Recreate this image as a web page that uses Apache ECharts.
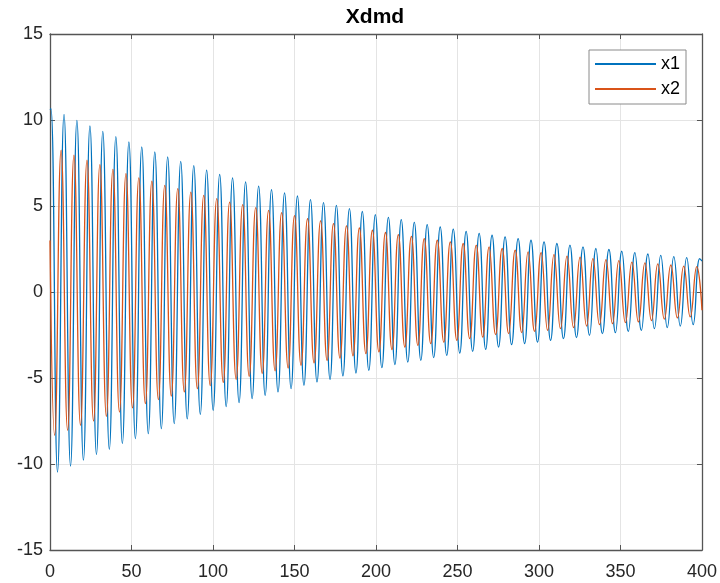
<!DOCTYPE html>
<html>
<head>
<meta charset="utf-8">
<script src="https://cdn.jsdelivr.net/npm/echarts/dist/echarts.min.js"></script>
<style>
  html, body { margin: 0; padding: 0; background: #fff; }
  #chart { width: 720px; height: 583px; }
</style>
</head>
<body>
<div id="chart"></div>
<script>
// Extremes of the two DMD state traces: times and values of each peak and trough
const x1PeakT = [0.6, 8.6, 16.5, 24.5, 32.4, 40.4, 48.4, 56.3, 64.3, 72.2, 80.2, 88.2, 96.1, 104.1, 112.0, 120.0, 128.0, 135.9, 143.9, 151.8, 159.8, 167.8, 175.7, 183.7, 191.6, 199.6, 207.6, 215.5, 223.5, 231.4, 239.4, 247.4, 255.3, 263.3, 271.2, 279.2, 287.2, 295.1, 303.1, 311.0, 319.0, 327.0, 334.9, 342.9, 350.8, 358.8, 366.8, 374.7, 382.7, 390.6, 398.6];
const x1PeakV = [10.66, 10.33, 9.98, 9.65, 9.34, 9.03, 8.72, 8.43, 8.14, 7.85, 7.60, 7.35, 7.09, 6.84, 6.63, 6.40, 6.16, 5.95, 5.76, 5.58, 5.37, 5.20, 5.04, 4.85, 4.68, 4.50, 4.34, 4.21, 4.05, 3.92, 3.78, 3.66, 3.53, 3.41, 3.30, 3.20, 3.10, 3.01, 2.91, 2.82, 2.72, 2.62, 2.53, 2.47, 2.37, 2.29, 2.21, 2.13, 2.06, 2.00, 1.94];
const x1TroughT = [4.6, 12.6, 20.5, 28.5, 36.4, 44.4, 52.4, 60.3, 68.3, 76.2, 84.2, 92.2, 100.1, 108.1, 116.0, 124.0, 132.0, 139.9, 147.9, 155.8, 163.8, 171.8, 179.7, 187.7, 195.6, 203.6, 211.6, 219.5, 227.5, 235.4, 243.4, 251.4, 259.3, 267.3, 275.2, 283.2, 291.2, 299.1, 307.1, 315.0, 323.0, 331.0, 338.9, 346.9, 354.8, 362.8, 370.8, 378.7, 386.7, 394.6];
const x1TroughV = [-10.47, -10.12, -9.78, -9.45, -9.15, -8.81, -8.52, -8.23, -7.94, -7.65, -7.38, -7.11, -6.88, -6.66, -6.43, -6.20, -6.01, -5.81, -5.62, -5.42, -5.23, -5.08, -4.88, -4.71, -4.55, -4.40, -4.22, -4.07, -3.97, -3.81, -3.68, -3.55, -3.45, -3.33, -3.20, -3.06, -3.00, -2.91, -2.81, -2.71, -2.65, -2.52, -2.42, -2.36, -2.29, -2.23, -2.13, -2.07, -1.98, -1.90];
const x1Ends = [[0, 10.6], [400, 1.8]];

const x2PeakT = [6.8, 14.7, 22.7, 30.6, 38.6, 46.6, 54.5, 62.5, 70.4, 78.4, 86.4, 94.3, 102.3, 110.2, 118.2, 126.2, 134.1, 142.1, 150.0, 158.0, 166.0, 173.9, 181.9, 189.8, 197.8, 205.8, 213.7, 221.7, 229.6, 237.6, 245.6, 253.5, 261.5, 269.4, 277.4, 285.4, 293.3, 301.3, 309.2, 317.2, 325.2, 333.1, 341.1, 349.0, 357.0, 365.0, 372.9, 380.9, 388.8, 396.8];
const x2PeakV = [8.24, 7.95, 7.66, 7.41, 7.13, 6.88, 6.63, 6.44, 6.20, 6.01, 5.81, 5.62, 5.43, 5.23, 5.08, 4.91, 4.75, 4.61, 4.44, 4.26, 4.13, 3.98, 3.84, 3.72, 3.59, 3.46, 3.34, 3.23, 3.10, 3.01, 2.91, 2.82, 2.72, 2.62, 2.53, 2.44, 2.33, 2.29, 2.17, 2.09, 2.02, 1.94, 1.88, 1.82, 1.74, 1.69, 1.63, 1.57, 1.51, 1.47];
const x2TroughT = [2.8, 10.8, 18.7, 26.7, 34.6, 42.6, 50.6, 58.5, 66.5, 74.4, 82.4, 90.4, 98.3, 106.3, 114.2, 122.2, 130.2, 138.1, 146.1, 154.0, 162.0, 170.0, 177.9, 185.9, 193.8, 201.8, 209.8, 217.7, 225.7, 233.6, 241.6, 249.6, 257.5, 265.5, 273.4, 281.4, 289.4, 297.3, 305.3, 313.2, 321.2, 329.2, 337.1, 345.1, 353.0, 361.0, 369.0, 376.9, 384.9, 392.8];
const x2TroughV = [-8.33, -8.04, -7.75, -7.50, -7.23, -6.98, -6.74, -6.49, -6.26, -6.05, -5.81, -5.62, -5.44, -5.26, -5.08, -4.90, -4.73, -4.58, -4.42, -4.26, -4.12, -3.98, -3.85, -3.71, -3.58, -3.48, -3.35, -3.20, -3.10, -3.00, -2.91, -2.81, -2.71, -2.62, -2.48, -2.42, -2.36, -2.29, -2.23, -2.13, -2.07, -1.98, -1.90, -1.84, -1.78, -1.74, -1.66, -1.58, -1.51, -1.45];
const x2Ends = [[0, 3.0], [400, -1.06]];

const seriesNames = ['x1', 'x2'];
const xTicks = [0, 50, 100, 150, 200, 250, 300, 350, 400];
const yTicks = [-15, -10, -5, 0, 5, 10, 15];

// merge peaks, troughs and end points into one time-ordered trace
function trace(pt, pv, tt, tv, ends) {
  const pts = ends.slice();
  pt.forEach((t, i) => pts.push([t, pv[i]]));
  tt.forEach((t, i) => pts.push([t, tv[i]]));
  return pts.sort((a, b) => a[0] - b[0]);
}

const x1 = trace(x1PeakT, x1PeakV, x1TroughT, x1TroughV, x1Ends);
const x2 = trace(x2PeakT, x2PeakV, x2TroughT, x2TroughV, x2Ends);

const ink = '#262626';
const font = "'Liberation Sans', Arial, Helvetica, sans-serif";
const frame = { show: true, onZero: false, lineStyle: { color: '#555555', width: 1.3 } };
const tick = { show: true, inside: true, length: 5, lineStyle: { color: '#555555', width: 1 } };
const grid = { show: true, lineStyle: { color: '#e4e4e4', width: 1 } };

const chart = echarts.init(document.getElementById('chart'), null, { renderer: 'canvas' });
chart.setOption({
  animation: false,
  backgroundColor: '#ffffff',
  title: {
    text: 'Xdmd',
    left: 375,
    textAlign: 'center',
    top: 7,
    padding: 0,
    textStyle: { fontFamily: font, fontSize: 21, fontWeight: 'bold', color: '#000' }
  },
  legend: {
    data: seriesNames,
    orient: 'vertical',
    left: 589,
    top: 50,
    padding: [5, 6, 6, 6],
    itemGap: 7,
    itemWidth: 61,
    itemHeight: 2,
    icon: 'rect',
    backgroundColor: '#ffffff',
    borderColor: '#8a8a8a',
    borderWidth: 1,
    borderRadius: 0,
    textStyle: { fontFamily: font, fontSize: 18, color: '#000', padding: [0, 0, 0, 0] }
  },
  grid: { left: 50, right: 18, top: 34, bottom: 33, containLabel: false },
  xAxis: [
    {
      type: 'value', min: xTicks[0], max: xTicks[xTicks.length - 1], interval: 50,
      axisLine: frame, axisTick: tick,
      axisLabel: { fontFamily: font, fontSize: 18, color: ink, margin: 13 },
      splitLine: grid
    },
    {
      type: 'value', position: 'top', min: xTicks[0], max: xTicks[xTicks.length - 1], interval: 50,
      axisLine: frame, axisTick: tick, axisLabel: { show: false }, splitLine: { show: false }
    }
  ],
  yAxis: [
    {
      type: 'value', min: yTicks[0], max: yTicks[yTicks.length - 1], interval: 5,
      axisLine: frame, axisTick: tick,
      axisLabel: { fontFamily: font, fontSize: 18, color: ink, margin: 7 },
      splitLine: grid
    },
    {
      type: 'value', position: 'right', min: yTicks[0], max: yTicks[yTicks.length - 1], interval: 5,
      axisLine: frame, axisTick: tick, axisLabel: { show: false }, splitLine: { show: false }
    }
  ],
  series: [
    {
      name: seriesNames[0], type: 'line', data: x1, showSymbol: false, smooth: 0.5,
      color: '#0072BD', lineStyle: { width: 1.3, color: '#0072BD' }
    },
    {
      name: seriesNames[1], type: 'line', data: x2, showSymbol: false, smooth: 0.5,
      color: '#D95319', lineStyle: { width: 1.3, color: '#D95319' }
    }
  ]
});
</script>
</body>
</html>
